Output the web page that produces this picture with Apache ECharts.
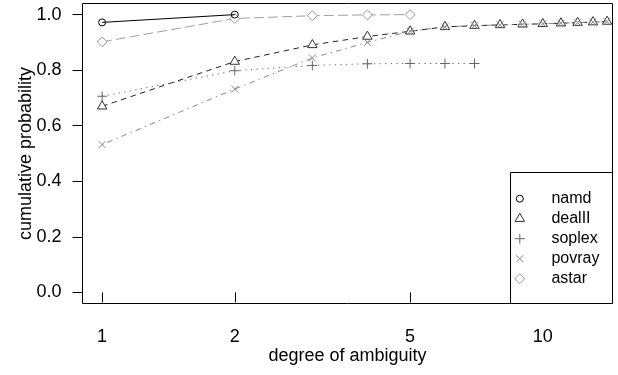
<!DOCTYPE html>
<html><head><meta charset="utf-8">
<script src="https://cdn.jsdelivr.net/npm/echarts@6/dist/echarts.min.js"></script>
<style>html,body{margin:0;padding:0;background:#fff}#c{width:618px;height:375px}</style>
</head><body><div id="c"></div>
<script>
// ---- data ----
const seriesNames = ['namd', 'dealII', 'soplex', 'povray', 'astar'];
const namdX = [1, 2];
const namdY = [0.972, 1.000];
const dealIIX = [1, 2, 3, 4, 5, 6, 7, 8, 9, 10, 11, 12, 13, 14];
const dealIIY = [0.670, 0.831, 0.891, 0.921, 0.940, 0.956, 0.960, 0.963, 0.965, 0.967, 0.969, 0.971, 0.973, 0.975];
const soplexX = [1, 2, 3, 4, 5, 6, 7];
const soplexY = [0.706, 0.798, 0.817, 0.823, 0.824, 0.824, 0.824];
const povrayX = [1, 2, 3, 4, 5, 6, 7, 8, 9, 10, 11, 12, 13, 14];
const povrayY = [0.532, 0.732, 0.844, 0.900, 0.940, 0.956, 0.960, 0.963, 0.965, 0.967, 0.969, 0.971, 0.973, 0.975];
const astarX = [1, 2, 3, 4, 5];
const astarY = [0.902, 0.986, 0.996, 0.999, 1.000];
const xTickValues = [1, 2, 5, 10];
const yTickValues = [0, 0.2, 0.4, 0.6, 0.8, 1.0];

// ---- styling ----
const FONT = 'Liberation Sans, Arial, Helvetica, sans-serif';
const FRAME = 'M-16 -16 M16 16 ';
const SYM = {
  circle: 'path://' + FRAME + 'M-10 0 A10 10 0 1 0 10 0 A10 10 0 1 0 -10 0 Z',
  triangle: 'path://' + FRAME + 'M0 -15.55 L13.47 7.78 L-13.47 7.78 Z',
  plus: 'path://' + FRAME + 'M-14.14 0 L14.14 0 M0 -14.14 L0 14.14',
  cross: 'path://' + FRAME + 'M-10 -10 L10 10 M-10 10 L10 -10',
  diamond: 'path://' + FRAME + 'M0 -14.14 L14.14 0 L0 14.14 L-14.14 0 Z'
};
const SYMSIZE = 11.2;

const cfg = {
  namd:   {x: namdX, y: namdY, sym: SYM.circle, sc: '#000', fill: 'rgba(0,0,0,0)', lc: '#000', dash: 'solid', z: 6},
  dealII: {x: dealIIX, y: dealIIY, sym: SYM.triangle, sc: '#333', fill: '#fff', lc: '#222', dash: [5.5, 4.5], z: 3},
  soplex: {x: soplexX, y: soplexY, sym: SYM.plus, sc: '#666', fill: 'rgba(0,0,0,0)', lc: '#777', dash: [1.4, 4.2], z: 4},
  povray: {x: povrayX, y: povrayY, sym: SYM.cross, sc: '#888', fill: 'rgba(0,0,0,0)', lc: '#888', dash: [1.4, 4.2, 5.6, 4.2], z: 5},
  astar:  {x: astarX, y: astarY, sym: SYM.diamond, sc: '#999', fill: '#fff', lc: '#a0a0a0', dash: [9.8, 4.2], z: 2}
};

const series = seriesNames.map(n => {
  const c = cfg[n];
  return {
    name: n,
    type: 'line',
    z: c.z,
    data: c.x.map((xv, i) => [xv, c.y[i]]),
    symbol: c.sym,
    symbolSize: SYMSIZE,
    showAllSymbol: true,
    itemStyle: {color: c.fill, borderColor: c.sc, borderWidth: 1},
    lineStyle: {color: c.lc, width: 1, type: c.dash},
    emphasis: {disabled: true},
    silent: true
  };
});

const chart = echarts.init(document.getElementById('c'), null, {renderer: 'canvas'});
chart.setOption({
  animation: false,
  backgroundColor: '#fff',
  textStyle: {fontFamily: FONT},
  grid: {left: 82.5, right: 5.5, top: 3.5, bottom: 71.5, show: true, borderColor: '#000', borderWidth: 1, backgroundColor: 'transparent'},
  xAxis: {
    type: 'log', logBase: 10, min: 0.9025, max: 14.4,
    name: 'degree of ambiguity', nameLocation: 'middle', nameGap: 44, nameMoveOverlap: false,
    nameTextStyle: {fontSize: 18, color: '#000', fontFamily: FONT},
    axisLine: {show: false},
    splitLine: {show: false}, minorTick: {show: false},
    axisTick: {show: true, length: 10, inside: false, lineStyle: {color: '#000', width: 1}, customValues: xTickValues},
    axisLabel: {fontSize: 18, color: '#000', margin: 25, fontFamily: FONT, customValues: xTickValues, formatter: v => String(v)}
  },
  yAxis: {
    type: 'value', min: -0.04, max: 1.04,
    name: 'cumulative probability', nameLocation: 'middle', nameGap: 47, nameRotate: 90, nameMoveOverlap: false,
    nameTextStyle: {fontSize: 18, color: '#000', fontFamily: FONT},
    axisLine: {show: false},
    splitLine: {show: false},
    axisTick: {show: true, length: 10, inside: false, lineStyle: {color: '#000', width: 1}, customValues: yTickValues},
    axisLabel: {fontSize: 18, color: '#000', margin: 21, fontFamily: FONT, customValues: yTickValues, formatter: v => v.toFixed(1)}
  },
  legend: {
    orient: 'vertical', left: 513.7, top: 188.7, padding: 0, itemGap: 0,
    itemWidth: SYMSIZE, itemHeight: SYMSIZE, symbolKeepAspect: true,
    selectedMode: false, z: 6,
    textStyle: {fontSize: 16, color: '#000', lineHeight: 20, fontFamily: FONT, padding: [0, 0, 0, 21]},
    data: seriesNames.map(n => ({
      name: n, icon: cfg[n].sym,
      itemStyle: {color: 'rgba(0,0,0,0)', borderColor: cfg[n].sc, borderWidth: 1}
    }))
  },
  graphic: [{
    type: 'rect', z: 5, silent: true,
    shape: {x: 510.5, y: 172.5, width: 102, height: 131},
    style: {fill: '#fff', stroke: '#000', lineWidth: 1}
  }],
  series: series
});
</script></body></html>
